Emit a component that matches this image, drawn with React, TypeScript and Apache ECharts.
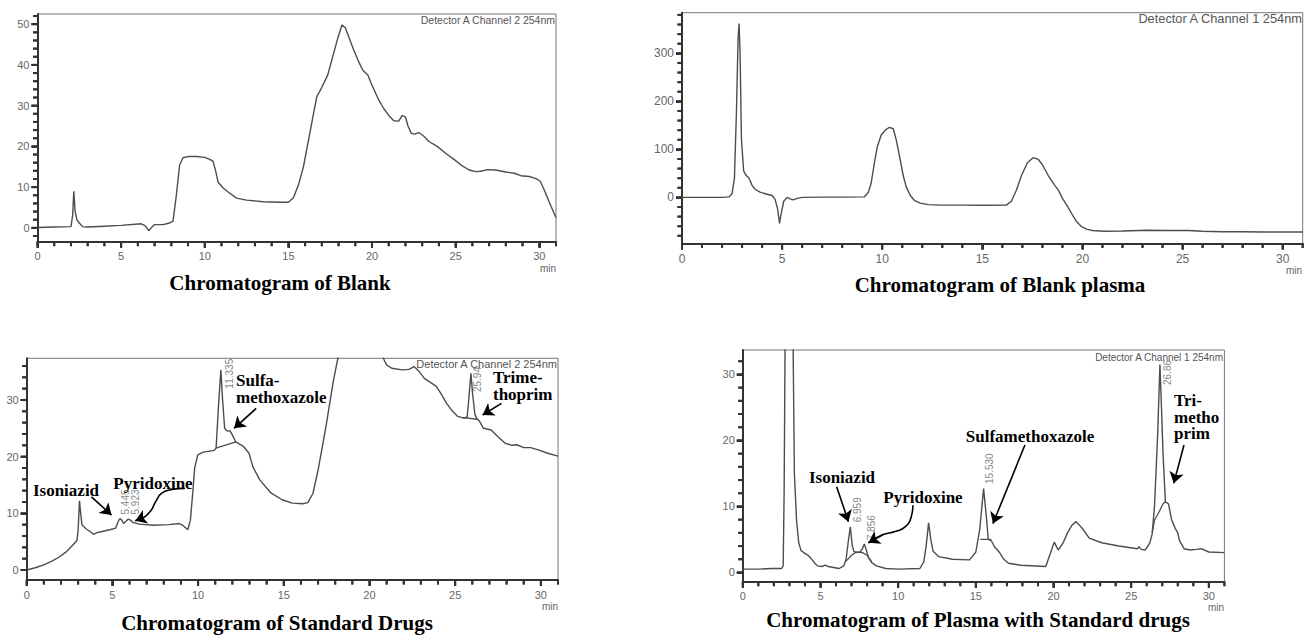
import React, { useEffect, useRef } from "react";
import * as echarts from "echarts";

// ---------------- data (time in min, detector response) ----------------
const blankTrace: [number, number][] = [
  [0, 0.1], [1, 0.2], [2.0, 0.3], [2.1, 3], [2.17, 9.0], [2.25, 4], [2.35, 2.0], [2.5, 1.2], [2.7, 0.3],
  [3.0, 0.2], [4, 0.4], [5, 0.6], [6.2, 1.0], [6.45, 0.5], [6.65, -0.7], [6.8, 0.0], [7.0, 0.8], [7.5, 0.8],
  [7.9, 1.2], [8.1, 1.6], [8.3, 8], [8.5, 15.5], [8.7, 17.2], [9.0, 17.5], [9.5, 17.5], [10.0, 17.3],
  [10.3, 16.8], [10.5, 16.3], [10.65, 14], [10.8, 11.2], [11.1, 9.8], [11.4, 8.8], [11.9, 7.3], [12.5, 6.8],
  [13.5, 6.4], [14.5, 6.3], [15.0, 6.3], [15.3, 7.4], [15.6, 10.5], [15.9, 15], [16.2, 21.5], [16.5, 28],
  [16.7, 32.2], [17.0, 34.5], [17.35, 37.5], [17.65, 42], [17.95, 46.5], [18.2, 49.8], [18.4, 49.2],
  [18.6, 47], [18.9, 43.7], [19.2, 40.8], [19.45, 38.7], [19.75, 37.5], [20.0, 35], [20.4, 31.4],
  [20.7, 29.3], [21.0, 27.6], [21.3, 26.3], [21.6, 26.2], [21.8, 27.6], [22.0, 27.2], [22.15, 25],
  [22.35, 23.2], [22.55, 23.0], [22.8, 23.4], [23.1, 22.5], [23.4, 21.2], [23.9, 20], [24.4, 18.3],
  [24.9, 16.8], [25.4, 15.2], [25.8, 14.2], [26.2, 13.8], [26.5, 13.9], [26.9, 14.3], [27.4, 14.2],
  [28.0, 13.7], [28.5, 13.4], [28.9, 12.8], [29.4, 12.6], [29.8, 12.1], [30.05, 11.5], [30.3, 9.3],
  [30.6, 6.3], [31.0, 2.5],
];

const blankPlasmaTrace: [number, number][] = [
  [0, 0], [1, 0], [2.0, 0], [2.35, 1], [2.5, 8], [2.62, 40], [2.72, 180], [2.8, 330], [2.85, 362],
  [2.9, 300], [2.97, 120], [3.08, 55], [3.2, 46], [3.35, 40], [3.5, 25], [3.65, 17], [3.9, 11], [4.2, 7],
  [4.5, 4], [4.65, -4], [4.78, -25], [4.87, -54], [4.95, -35], [5.08, -8], [5.25, 0], [5.4, -3],
  [5.55, -5], [5.75, -2], [6.0, 0], [7, 0.5], [8, 0.5], [9.1, 1], [9.3, 10], [9.45, 30], [9.6, 70],
  [9.75, 105], [9.95, 130], [10.15, 140], [10.36, 146], [10.55, 143], [10.7, 120], [10.9, 78],
  [11.05, 45], [11.2, 22], [11.4, 4], [11.6, -6], [11.9, -12], [12.3, -15], [13, -16], [14, -16],
  [15, -16.5], [16.2, -16], [16.45, -8], [16.7, 15], [16.95, 45], [17.25, 72], [17.55, 83], [17.8, 79],
  [18.0, 68], [18.3, 45], [18.6, 26], [18.8, 15], [19.0, -2], [19.2, -15], [19.45, -33], [19.7, -50],
  [19.96, -61], [20.2, -66], [20.5, -69], [21.1, -70.5], [22, -70], [23.2, -68.5], [24.2, -69],
  [25.3, -69], [26, -70.5], [27, -71.5], [28, -71.5], [29, -72], [31, -72],
];

const standardTrace: [number, number][] = [
  [0, 0], [0.5, 0.4], [1.0, 0.9], [1.5, 1.6], [1.9, 2.3], [2.3, 3.2], [2.6, 4.1], [2.93, 5.2], [3.0, 7],
  [3.08, 12.2], [3.15, 10], [3.22, 8.0], [3.35, 7.6], [3.5, 7.2], [3.7, 6.8], [3.9, 6.3], [4.1, 6.6],
  [4.4, 6.8], [4.85, 7.1], [5.2, 7.4], [5.3, 8.3], [5.43, 9.1], [5.55, 8.8], [5.65, 8.2], [5.8, 8.6],
  [5.92, 9.0], [6.05, 8.8], [6.2, 8.4], [6.56, 8.1], [7.4, 7.9], [8.3, 8.0], [8.9, 8.2], [9.1, 7.9],
  [9.4, 7.1], [9.55, 8.8], [9.7, 14], [9.8, 18], [9.98, 20.3], [10.3, 20.8], [10.94, 21.1], [11.05, 21.5],
  [11.2, 29.4], [11.33, 35.3], [11.43, 30], [11.55, 25], [11.7, 24.5], [11.85, 24.6], [11.95, 24.1],
  [12.2, 22.6], [12.65, 21.8], [12.97, 20.6], [13.2, 18.2], [13.6, 15.9], [14.25, 13.6], [14.9, 12.4],
  [15.5, 11.8], [16.1, 11.7], [16.4, 11.9], [16.7, 13.5], [17.0, 17.6], [17.46, 25.3], [17.9, 33.5],
  [18.2, 38], [18.6, 45], [19.5, 50], [20.3, 45], [20.6, 39], [20.8, 37.4], [21.0, 36.2], [21.3, 35.6],
  [21.9, 35.3], [22.3, 35.4], [22.6, 35.9], [22.9, 35], [23.2, 33.8], [23.6, 33.0], [23.9, 32.4],
  [24.2, 31], [24.5, 29.4], [24.85, 28], [25.15, 27.1], [25.5, 26.8], [25.7, 27], [25.82, 31],
  [25.92, 34.7], [26.02, 31], [26.15, 27.5], [26.25, 26.8], [26.45, 26.1], [26.65, 25], [27.1, 24.7],
  [27.5, 23.5], [27.9, 22.4], [28.3, 22.0], [28.6, 22.1], [29.0, 21.6], [29.4, 21.6], [29.85, 21.2],
  [30.4, 20.6], [31, 20.1],
];

const standardBaselines: [number, number][][] = [
  [[11.04, 21.5], [12.21, 22.6]],
  [[25.45, 26.9], [26.3, 26.6]],
];

const plasmaStdTrace: [number, number][] = [
  [0, 0.5], [1, 0.5], [1.83, 0.6], [2.5, 0.6], [2.6, 1], [2.66, 12], [2.72, 34], [2.8, 80], [3.15, 80],
  [3.24, 34], [3.32, 15], [3.46, 7.9], [3.6, 4.5], [3.75, 3.3], [4.0, 2.9], [4.2, 2.6], [4.4, 2.1],
  [4.6, 1.5], [4.8, 1.0], [5.1, 0.9], [5.3, 1.1], [5.5, 0.9], [6.2, 0.6], [6.5, 1.0], [6.65, 2.0],
  [6.78, 4.5], [6.92, 6.9], [7.05, 4], [7.15, 3.2], [7.3, 3.0], [7.55, 3.1], [7.7, 3.6], [7.82, 4.3],
  [7.95, 3.4], [8.1, 2.2], [8.3, 1.5], [8.6, 1.0], [9.2, 0.6], [10, 0.5], [11.4, 0.6], [11.65, 1.6],
  [11.8, 4], [11.96, 7.5], [12.1, 5], [12.25, 3.2], [12.6, 2.4], [13.5, 2.0], [14.6, 1.9], [15.0, 3.1],
  [15.25, 6.5], [15.5, 12.7], [15.7, 7.9], [15.8, 5.0], [16.0, 4.8], [16.2, 3.9], [16.5, 3.1], [16.8, 2.0],
  [17.1, 1.4], [17.9, 1.1], [19.5, 0.9], [19.8, 2.9], [20.05, 4.6], [20.3, 3.4], [20.6, 4.4], [20.9, 6.0],
  [21.2, 7.2], [21.45, 7.7], [21.85, 6.7], [22.3, 5.2], [23.1, 4.5], [24.2, 4.0], [25.4, 3.6], [25.5, 3.9],
  [25.65, 3.5], [25.9, 3.4], [26.2, 4.5], [26.35, 5.8], [26.5, 10], [26.7, 20.6], [26.85, 31.5],
  [26.95, 25], [27.05, 18], [27.2, 10.7], [27.4, 10.4], [27.6, 8], [27.85, 6.6], [28.0, 6.0], [28.1, 4.9],
  [28.4, 3.6], [28.8, 3.4], [29.2, 3.5], [29.5, 3.6], [30.0, 3.1], [31, 3.0],
];

const plasmaStdSegments: [number, number][][] = [
  [[6.6, 1.6], [7.0, 2.6], [7.3, 3.1], [7.7, 3.0], [8.0, 2.6], [8.3, 1.6]],
  [[15.28, 5.0], [16.0, 5.0]],
  [[26.35, 6.0], [26.5, 7.9], [26.8, 9.2], [27.05, 10.4], [27.2, 10.7]],
];

const minuteTicks = [0, 5, 10, 15, 20, 25, 30];
const blankTicks = [0, 10, 20, 30, 40, 50];
const blankPlasmaTicks = [0, 100, 200, 300];
const standardTicks = [0, 10, 20, 30];
const plasmaStdTicks = [0, 10, 20, 30];

const standardPeaks = [
  { name: "5.445", at: [5.78, 9.8] },
  { name: "5.923", at: [6.36, 9.8] },
  { name: "11.335", at: [11.82, 32.0] },
  { name: "25.94", at: [26.3, 31.4] },
];
const plasmaStdPeaks = [
  { name: "6.959", at: [7.4, 7.6] },
  { name: "7.856", at: [8.3, 4.9] },
  { name: "15.530", at: [15.85, 13.4] },
  { name: "26.86", at: [27.35, 28.4] },
];

// straight arrows (from text to peak)
const standardArrows = [
  { from: [3.78, 12.9], to: [4.95, 9.7] },
  { from: [13.39, 28.5], to: [12.1, 25.0] },
  { from: [27.7, 29.4], to: [26.6, 27.35] },
];
const plasmaStdArrows = [
  { from: [6.04, 13.0], to: [6.8, 7.7] },
  { from: [18.16, 19.3], to: [16.1, 7.4] },
  { from: [28.4, 19.3], to: [27.74, 13.5] },
];
// curved arrows (Pyridoxine), path points in data space, last point = arrow tip
const standardCurvedArrow: [number, number][] = [
  [9.22, 14.4], [8.48, 14.2], [7.9, 13.6], [7.55, 12.2], [7.25, 10.5], [6.85, 9.3], [6.34, 8.7],
];
const plasmaStdCurvedArrow: [number, number][] = [
  [10.95, 10.2], [10.85, 8.5], [10.45, 6.9], [9.8, 6.2], [9.0, 5.7], [8.09, 4.5],
];

// ---------------- layout ----------------
const SANS = "'Liberation Sans', Arial, sans-serif";
const SERIF = "'Liberation Serif', 'Times New Roman', serif";
const AXIS = "#333";
const LABEL = "#666";
const TRACE = "#4d4d4d";

function steps(a: number, b: number, s: number) {
  const out: number[] = [];
  for (let v = a; v <= b + 1e-9; v += s) out.push(Math.round(v * 1000) / 1000);
  return out;
}

const panels = [
  {
    grid: { left: 37.5, top: 14, width: 518.5, height: 227.7 },
    y: [-3.4, 52.5], major: blankTicks, minor: steps(-2, 52, 2), trace: blankTrace,
    extra: [] as [number, number][][], peaks: [] as any[], arrows: [] as any[], curved: null as any, font: 11,
  },
  {
    grid: { left: 682, top: 12.7, width: 620.7, height: 230.8 },
    y: [-96, 384.6], major: blankPlasmaTicks, minor: steps(-80, 380, 20), trace: blankPlasmaTrace,
    extra: [] as [number, number][][], peaks: [] as any[], arrows: [] as any[], curved: null as any, font: 12,
  },
  {
    grid: { left: 26.7, top: 358.3, width: 531.3, height: 221.7 },
    y: [-1.76, 37.35], major: standardTicks, minor: steps(0, 36, 2), trace: standardTrace,
    extra: standardBaselines, peaks: standardPeaks, arrows: standardArrows, curved: standardCurvedArrow, font: 11,
  },
  {
    grid: { left: 742.8, top: 350, width: 481.6, height: 231.7 },
    y: [-1.4, 33.7], major: plasmaStdTicks, minor: steps(0, 32, 2), trace: plasmaStdTrace,
    extra: plasmaStdSegments, peaks: plasmaStdPeaks, arrows: plasmaStdArrows, curved: plasmaStdCurvedArrow, font: 11,
  },
];

const minuteMinor = steps(0, 31, 1);

const arrowMarkLine = (pairs: { from: number[]; to: number[] }[]) => ({
  silent: true,
  symbol: ["none", "arrow"],
  symbolSize: 11,
  animation: false,
  label: { show: false },
  emphasis: { disabled: true },
  lineStyle: { color: "#000", width: 1.6, type: "solid" },
  data: pairs.map((a) => [{ coord: a.from }, { coord: a.to }]),
});

function buildOption() {
  const grids: any[] = [];
  const xAxes: any[] = [];
  const yAxes: any[] = [];
  const series: any[] = [];

  panels.forEach((p, i) => {
    grids.push({ ...p.grid, show: true, borderColor: "#777", borderWidth: 1, containLabel: false });
    xAxes.push({
      type: "value", gridIndex: i, min: 0, max: 31, position: "bottom",
      axisLine: { show: true, onZero: false, lineStyle: { color: AXIS, width: 2 } },
      axisTick: { show: true, customValues: minuteTicks, length: 6, lineStyle: { color: AXIS, width: 2 } },
      axisLabel: { show: true, customValues: minuteTicks, margin: 9, color: LABEL, fontSize: p.font, fontFamily: SANS },
      splitLine: { show: false },
    });
    yAxes.push({
      type: "value", gridIndex: i, min: p.y[0], max: p.y[1], position: "left",
      axisLine: { show: true, onZero: false, lineStyle: { color: AXIS, width: 2 } },
      axisTick: { show: true, customValues: p.major, length: 6, lineStyle: { color: AXIS, width: 2 } },
      axisLabel: { show: true, customValues: p.major, margin: 8, color: LABEL, fontSize: p.font, fontFamily: SANS },
      splitLine: { show: false },
    });
  });

  panels.forEach((p, i) => {
    // minor tick marks drawn through the axis scales
    const xTickData = minuteMinor.map((v) => [v, p.y[0], minuteTicks.includes(v) ? 6 : 4.5]);
    const yTickData = p.minor
      .concat(p.major.filter((v) => !p.minor.includes(v)))
      .map((v) => [0, v, p.major.includes(v) ? 6 : 4.5]);
    series.push({
      type: "custom", xAxisIndex: i, yAxisIndex: i, silent: true, clip: false, z: 5,
      dimensions: ["t", "v", "len"], data: xTickData, encode: { x: 0, y: 1 },
      renderItem: (_: any, api: any) => {
        const pt = api.coord([api.value(0), api.value(1)]);
        const len = Number(api.value(2)) || 4.5;
        return {
          type: "line",
          shape: { x1: pt[0], y1: pt[1], x2: pt[0], y2: pt[1] + len },
          style: { stroke: AXIS, lineWidth: 2 },
        };
      },
    });
    series.push({
      type: "custom", xAxisIndex: i, yAxisIndex: i, silent: true, clip: false, z: 5,
      dimensions: ["t", "v", "len"], data: yTickData, encode: { x: 0, y: 1 },
      renderItem: (_: any, api: any) => {
        const pt = api.coord([api.value(0), api.value(1)]);
        const len = Number(api.value(2)) || 4.5;
        return {
          type: "line",
          shape: { x1: pt[0] - len, y1: pt[1], x2: pt[0], y2: pt[1] },
          style: { stroke: AXIS, lineWidth: 2 },
        };
      },
    });

    series.push({
      type: "line", xAxisIndex: i, yAxisIndex: i, data: p.trace, showSymbol: false, symbol: "none",
      lineStyle: { color: TRACE, width: 1.4 }, silent: true, clip: true, z: 3,
      markLine: p.arrows.length ? arrowMarkLine(p.arrows) : undefined,
    });
    p.extra.forEach((seg) => {
      series.push({
        type: "line", xAxisIndex: i, yAxisIndex: i, data: seg, showSymbol: false, symbol: "none",
        lineStyle: { color: TRACE, width: 1.3 }, silent: true, z: 3,
      });
    });
    if (p.curved) {
      const c = p.curved as [number, number][];
      series.push({
        type: "line", xAxisIndex: i, yAxisIndex: i, data: c, showSymbol: false, symbol: "none", smooth: 0.5,
        lineStyle: { color: "#000", width: 1.6 }, silent: true, z: 6,
        markLine: arrowMarkLine([{ from: c[c.length - 2], to: c[c.length - 1] }]),
      });
    }
    if (p.peaks.length) {
      series.push({
        type: "scatter", xAxisIndex: i, yAxisIndex: i, symbolSize: 1, silent: true, z: 4,
        itemStyle: { color: "rgba(0,0,0,0)" },
        data: p.peaks.map((pk: any) => ({ name: pk.name, value: pk.at })),
        label: {
          show: true, position: "inside", formatter: "{b}", rotate: 90, align: "left",
          verticalAlign: "middle", color: "#666", fontSize: 10, fontFamily: SANS,
        },
      });
    }
  });

  return {
    animation: false,
    backgroundColor: "#fff",
    grid: grids,
    xAxis: xAxes,
    yAxis: yAxes,
    series,
  };
}

function textGraphics() {
  const t = (text: string, x: number, y: number, style: any) => ({
    type: "text", x, y, silent: true, z: 100,
    style: { text, verticalAlign: "middle", ...style },
  });
  const titleStyle = { fontFamily: SERIF, fontWeight: "bold", fontSize: 21, fill: "#000", align: "center" };
  const annStyle = { fontFamily: SERIF, fontWeight: "bold", fontSize: 17, fill: "#000", lineHeight: 16.5 };
  const detStyle = (s: number) => ({ fontFamily: SANS, fontSize: s, fill: "#555", align: "right" });
  const minStyle = { fontFamily: SANS, fontSize: 10, fill: "#666", align: "right" };
  return [
    t("Chromatogram of Blank", 280, 283, titleStyle),
    t("Chromatogram of Blank plasma", 1000, 285, titleStyle),
    t("Chromatogram of Standard Drugs", 277, 623, titleStyle),
    t("Chromatogram of Plasma with Standard drugs", 978, 620, titleStyle),
    t("Detector A Channel 2 254nm", 555, 20, detStyle(10.5)),
    t("Detector A Channel 1 254nm", 1302, 18, detStyle(12.8)),
    t("Detector A Channel 2 254nm", 557, 364, detStyle(11)),
    t("Detector A Channel 1 254nm", 1223, 357, detStyle(10)),
    t("min", 556, 268, minStyle),
    t("min", 1302, 270, minStyle),
    t("min", 558, 606, minStyle),
    t("min", 1224, 607, minStyle),
    t("Isoniazid", 66, 490, { ...annStyle, align: "center" }),
    t("Pyridoxine", 153, 483, { ...annStyle, align: "center" }),
    t("Sulfa-\nmethoxazole", 236, 389, { ...annStyle, align: "left" }),
    t("Trime-\nthoprim", 493, 386, { ...annStyle, align: "left" }),
    t("Isoniazid", 842, 477, { ...annStyle, align: "center" }),
    t("Pyridoxine", 923, 497, { ...annStyle, align: "center" }),
    t("Sulfamethoxazole", 1030, 436, { ...annStyle, align: "center" }),
    t("Tri-\nmetho\nprim", 1174, 417, { ...annStyle, align: "left" }),
  ];
}

// tick marks as graphics, positioned through the axes' own scales (convertToPixel)
function tickGraphics(chart: echarts.ECharts) {
  const out: any[] = [];
  const style = { stroke: AXIS, lineWidth: 2 };
  panels.forEach((p, i) => {
    minuteMinor.forEach((v) => {
      const pt = chart.convertToPixel({ xAxisIndex: i, yAxisIndex: i } as any, [v, p.y[0]]) as number[];
      if (!pt) return;
      const len = minuteTicks.includes(v) ? 6 : 4.5;
      out.push({ type: "line", silent: true, z: 90, shape: { x1: pt[0], y1: pt[1], x2: pt[0], y2: pt[1] + len }, style });
    });
    const yVals = p.minor.concat(p.major.filter((v) => !p.minor.includes(v)));
    yVals.forEach((v) => {
      const pt = chart.convertToPixel({ xAxisIndex: i, yAxisIndex: i } as any, [0, v]) as number[];
      if (!pt) return;
      const len = p.major.includes(v) ? 6 : 4.5;
      out.push({ type: "line", silent: true, z: 90, shape: { x1: pt[0] - len, y1: pt[1], x2: pt[0], y2: pt[1] }, style });
    });
  });
  return out;
}

export default function App() {
  const ref = useRef<HTMLDivElement>(null);
  useEffect(() => {
    if (!ref.current) return;
    const chart = echarts.init(ref.current, null, { renderer: "svg" });
    chart.setOption(buildOption() as any);
    let ticks: any[] = [];
    try {
      ticks = tickGraphics(chart);
    } catch (e) {
      ticks = [];
    }
    chart.setOption({ graphic: [...textGraphics(), ...ticks] } as any);
    return () => chart.dispose();
  }, []);
  return (
    <div
      ref={ref}
      style={{ position: "fixed", left: 0, top: 0, width: 1304, height: 635, background: "#fff" }}
    />
  );
}
